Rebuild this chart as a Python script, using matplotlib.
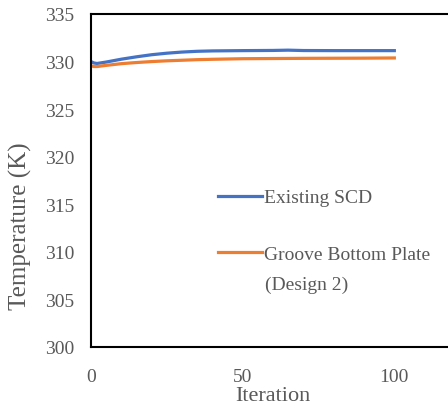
import matplotlib
matplotlib.use("Agg")
import matplotlib.pyplot as plt

# Iteration vs temperature (K)
ITER = [0, 1, 2, 3, 5, 10, 15, 20, 25, 30, 35, 40, 50, 60, 65, 70, 80, 90, 100]
EXISTING_SCD = [330.0, 329.85, 329.8, 329.85, 329.95, 330.25, 330.5, 330.72, 330.88,
                331.0, 331.08, 331.12, 331.15, 331.17, 331.2, 331.16, 331.15, 331.15, 331.15]
GROOVE_D2 = [329.55, 329.48, 329.48, 329.52, 329.6, 329.78, 329.9, 330.0, 330.08,
             330.14, 330.2, 330.24, 330.3, 330.32, 330.33, 330.34, 330.35, 330.36, 330.38]

LABELS = ["Existing SCD", "Groove Bottom Plate"]
LABEL2_CONT = "(Design 2)"
COLORS = ["#4472C4", "#ED7D31"]
TEXT_GREY = "#595959"

plt.rcParams["font.family"] = ["Liberation Serif", "DejaVu Serif"]

fig = plt.figure(figsize=(4.48, 4.10), dpi=100)
# axes runs past the right edge, as in the cropped original
ax = fig.add_axes([91 / 448, 1 - 348 / 410, 364 / 448, 333 / 410])

ax.plot(ITER, EXISTING_SCD, color=COLORS[0], linewidth=2.3, label=LABELS[0])
ax.plot(ITER, GROOVE_D2, color=COLORS[1], linewidth=2.3, label=LABELS[1])

ax.set_xlim(0, 120)
ax.set_ylim(300, 335)
ax.set_xticks([0, 50, 100])
ax.set_yticks(range(300, 336, 5))
ax.tick_params(length=0, labelsize=14, labelcolor=TEXT_GREY)
ax.tick_params(axis="y", pad=12)
ax.tick_params(axis="x", pad=15)

for s in ax.spines.values():
    s.set_linewidth(1.5)
    s.set_color("black")

ax.set_xlabel("Iteration", fontsize=16, color=TEXT_GREY, labelpad=1)
ax.set_ylabel("Temperature (K)", fontsize=18, color=TEXT_GREY)
ax.yaxis.set_label_coords(-0.163, 0.366)

leg = ax.legend(loc="upper left", bbox_to_anchor=(210 / 448, 1 - 182 / 410),
                bbox_transform=fig.transFigure, frameon=False, fontsize=14,
                handlelength=2.25, handletextpad=0.15, labelspacing=2.0,
                borderaxespad=0)
for t in leg.get_texts():
    t.set_color(TEXT_GREY)

# second line of the orange legend entry
ax.text(265 / 448, 1 - 285 / 410, LABEL2_CONT, transform=fig.transFigure,
        fontsize=14, color=TEXT_GREY, ha="left", va="center")

fig.savefig("out.png", dpi=100)
